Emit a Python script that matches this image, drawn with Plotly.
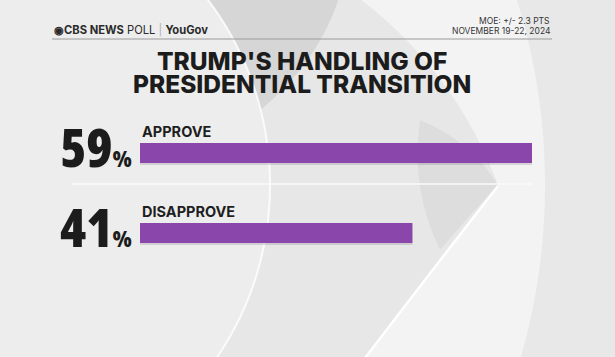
import numpy as np
import plotly.graph_objects as go

# ---- data ----
categories = ["APPROVE", "DISAPPROVE"]
values = [59, 41]
title_lines = ["TRUMP'S HANDLING OF", "PRESIDENTIAL TRANSITION"]
moe_text = "MOE: +/- 2.3 PTS"
date_text = "NOVEMBER 19-22, 2024"
brand_text = "<b>◉CBS NEWS</b> POLL <span style='color:#b0b0b0'>|</span> <b>YouGov</b>"

W, H = 615, 357


def P(x, y):
    return f"{x / W:.5f},{1 - y / H:.5f}"


def arc_pts(cx, cy, r, y0, y1, n=60):
    ys = np.linspace(y0, y1, n)
    xs = cx + np.sqrt(r ** 2 - (ys - cy) ** 2)
    return list(zip(xs, ys))


def poly(pts):
    return " L ".join(P(x, y) for x, y in pts)


left_arc = arc_pts(-37, 185, 307, -5, 362)
right_arc_up = arc_pts(-80, 185, 625, 362, -5)

shapes = []
# far right region
shapes.append(dict(type="path", xref="paper", yref="paper", layer="below",
                   path="M " + poly(arc_pts(-80, 185, 625, -5, 362)) + f" L {P(620, 362)} L {P(620, -5)} Z",
                   fillcolor="#e8e8e8", line=dict(width=0)))
# middle (arrow) region
shapes.append(dict(type="path", xref="paper", yref="paper", layer="below",
                   path="M " + poly(left_arc) + " L " + poly(right_arc_up) + " Z",
                   fillcolor="#e7e7e7", line=dict(width=0)))
# darker top part of arrow
shapes.append(dict(type="path", xref="paper", yref="paper", layer="below",
                   path="M " + poly(arc_pts(-37, 185, 307, -5, 110)) +
                        f" Q {P(320, 60)} {P(340, -5)} Z",
                   fillcolor="rgba(0,0,0,0.07)", line=dict(width=0)))
# shadow near tip of arrow
shapes.append(dict(type="path", xref="paper", yref="paper", layer="below",
                   path=f"M {P(420, 120)} Q {P(470, 140)} {P(498, 185)} Q {P(470, 215)} {P(440, 250)} Q {P(410, 190)} {P(420, 120)} Z",
                   fillcolor="rgba(0,0,0,0.04)", line=dict(width=0)))
# light region right of arrow edges
shapes.append(dict(type="path", xref="paper", yref="paper", layer="below",
                   path=f"M {P(355, -5)} Q {P(455, 70)} {P(498, 185)} Q {P(440, 260)} {P(362, 362)} L " +
                        poly(right_arc_up) + " Z",
                   fillcolor="#f3f3f3", line=dict(width=0)))
# highlight on lower arrow edge
shapes.append(dict(type="path", xref="paper", yref="paper", layer="below",
                   path=f"M {P(498, 186)} Q {P(440, 260)} {P(362, 362)}",
                   line=dict(color="#ffffff", width=2.5)))
# highlight along left arc
shapes.append(dict(type="path", xref="paper", yref="paper", layer="below",
                   path="M " + poly(left_arc),
                   line=dict(color="rgba(255,255,255,0.8)", width=2)))
# header rule
shapes.append(dict(type="line", xref="paper", yref="paper", layer="below",
                   x0=52 / W, x1=552 / W, y0=1 - 39 / H, y1=1 - 39 / H,
                   line=dict(color="#9a9a9a", width=1)))
# separator between bars
shapes.append(dict(type="line", xref="paper", yref="paper", layer="below",
                   x0=72 / W, x1=533 / W, y0=1 - 184 / H, y1=1 - 184 / H,
                   line=dict(color="#fafafa", width=1.5)))

fig = go.Figure()

# bar shadow
fig.add_trace(go.Bar(
    x=values, y=categories, orientation="h", width=0.25, offset=-0.125 + 0.025,
    marker=dict(color="rgba(40,30,50,0.14)", line=dict(width=0)),
    hoverinfo="skip", showlegend=False,
))
fig.add_trace(go.Bar(
    x=values, y=categories, orientation="h", width=0.25,
    marker=dict(color="#8a46ab", line=dict(width=0)),
    showlegend=False,
))

NUM_STYLE = "font-stretch:75%;font-family:'Open Sans';font-weight:800"

annotations = []
for cat, v in zip(categories, values):
    annotations.append(dict(
        x=0, y=cat, xref="x", yref="y", xanchor="left", yanchor="middle",
        yshift=22, showarrow=False, text=cat,
        font=dict(family="Inter", size=14.5, color="#1e1e1e", weight=700),
    ))
    annotations.append(dict(
        x=134 / W, y=cat, xref="paper", yref="y", xanchor="right", yanchor="middle",
        yshift=7, showarrow=False,
        text=f"<span style=\"{NUM_STYLE}\">{v}</span>"
             f"<span style=\"{NUM_STYLE};font-size:23px\">%</span>",
        font=dict(family="Open Sans", size=53, color="#1c1c1c", weight=800),
    ))

annotations.append(dict(
    x=302 / W, y=1 - 60 / H, xref="paper", yref="paper", xanchor="center", yanchor="middle",
    height=21, valign="middle",
    showarrow=False, text=title_lines[0],
    font=dict(family="Inter", size=24.5, color="#1c1c1c", weight=800),
))
annotations.append(dict(
    x=302 / W, y=1 - 83.5 / H, xref="paper", yref="paper", xanchor="center", yanchor="middle",
    height=21, valign="middle",
    showarrow=False, text=title_lines[1],
    font=dict(family="Inter", size=24.5, color="#1c1c1c", weight=800),
))
annotations.append(dict(
    x=52 / W, y=1 - 30 / H, xref="paper", yref="paper", xanchor="left", yanchor="middle",
    showarrow=False, text=brand_text,
    font=dict(family="Inter", size=11.2, color="#2a2a2a"),
))
annotations.append(dict(
    x=552 / W, y=1 - 21 / H, xref="paper", yref="paper", xanchor="right", yanchor="middle",
    showarrow=False, text=moe_text,
    font=dict(family="Inter", size=8.5, color="#333333"),
))
annotations.append(dict(
    x=552 / W, y=1 - 30.5 / H, xref="paper", yref="paper", xanchor="right", yanchor="middle",
    showarrow=False, text=date_text,
    font=dict(family="Inter", size=8.5, color="#333333"),
))

fig.update_layout(
    width=W, height=H,
    margin=dict(l=0, r=0, t=0, b=0),
    paper_bgcolor="#ededed",
    plot_bgcolor="rgba(0,0,0,0)",
    barmode="overlay",
    shapes=shapes,
    annotations=annotations,
    xaxis=dict(domain=[140 / W, 532 / W], range=[0, max(values)], visible=False, fixedrange=True),
    yaxis=dict(domain=[1 - 273 / H, 1 - 113 / H], range=[1.5, -0.5], visible=False,
               type="category", categoryorder="array", categoryarray=categories, fixedrange=True),
    showlegend=False,
)

fig.write_html("out.html", config={"displayModeBar": False})
